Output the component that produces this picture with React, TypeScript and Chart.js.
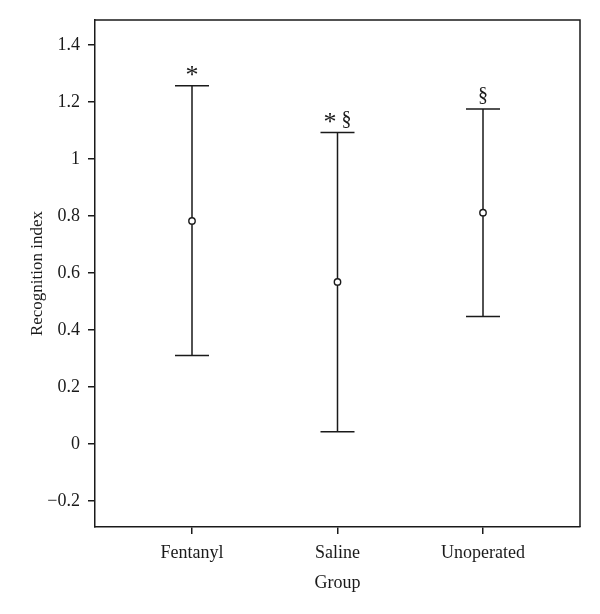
import React, { useEffect, useRef } from "react";
import { Chart, registerables } from "chart.js";
Chart.register(...registerables);

const groups = ["Fentanyl", "Saline", "Unoperated"];
const means = [0.783, 0.569, 0.812];
const upper = [1.257, 1.093, 1.176];
const lower = [0.311, 0.043, 0.448];
const marks = ["*", "* §", "§"];
const yTicks = [-0.2, 0, 0.2, 0.4, 0.6, 0.8, 1, 1.2, 1.4];
const xPositions = [1, 2, 3];

const FONT = "'Liberation Serif', 'Times New Roman', serif";
const INK = "#1a1a1a";

const fmt = (v: number) => {
  const r = Number(v.toFixed(1));
  return r < 0 ? "\u2212" + Math.abs(r) : String(r);
};

const drawMark = (ctx: CanvasRenderingContext2D, text: string, cx: number, baseY: number) => {
  const parts = text.split("");
  const sizeOf = (ch: string) => (ch === "*" ? 26 : 20);
  const widths = parts.map((ch) => {
    ctx.font = `${sizeOf(ch)}px ${FONT}`;
    return ctx.measureText(ch).width;
  });
  const total = widths.reduce((a, b) => a + b, 0);
  let x = cx - total / 2;
  parts.forEach((ch, i) => {
    ctx.font = `${sizeOf(ch)}px ${FONT}`;
    ctx.fillText(ch, x, ch === "*" ? baseY + 5 : baseY);
    x += widths[i];
  });
};

const errorBarPlugin = {
  id: "errorBars",
  beforeDatasetsDraw(chart: any) {
    const { ctx, scales } = chart;
    const xs = scales.x;
    const ys = scales.y;
    ctx.save();
    ctx.strokeStyle = INK;
    ctx.lineWidth = 1.5;
    const cap = 17;
    xPositions.forEach((xv, i) => {
      const x = xs.getPixelForValue(xv);
      const yt = ys.getPixelForValue(upper[i]);
      const yb = ys.getPixelForValue(lower[i]);
      ctx.beginPath();
      ctx.moveTo(x, yt);
      ctx.lineTo(x, yb);
      ctx.moveTo(x - cap, yt);
      ctx.lineTo(x + cap, yt);
      ctx.moveTo(x - cap, yb);
      ctx.lineTo(x + cap, yb);
      ctx.stroke();
    });
    ctx.restore();
  },
  afterDraw(chart: any) {
    const { ctx, scales, chartArea } = chart;
    const xs = scales.x;
    const ys = scales.y;
    ctx.save();
    ctx.strokeStyle = INK;
    ctx.lineWidth = 1.5;
    ctx.beginPath();
    ctx.moveTo(chartArea.left, chartArea.top);
    ctx.lineTo(chartArea.right, chartArea.top);
    ctx.lineTo(chartArea.right, chartArea.bottom);
    ctx.stroke();
    ctx.fillStyle = INK;
    ctx.textAlign = "left";
    ctx.textBaseline = "alphabetic";
    xPositions.forEach((xv, i) => {
      const x = xs.getPixelForValue(xv);
      const yt = ys.getPixelForValue(upper[i]);
      drawMark(ctx, marks[i], x, yt - 8);
    });
    ctx.restore();
  },
};

export default function App() {
  const ref = useRef<HTMLCanvasElement | null>(null);
  useEffect(() => {
    if (!ref.current) return;
    const chart = new Chart(ref.current, {
      type: "scatter",
      data: {
        datasets: [
          {
            data: xPositions.map((x, i) => ({ x, y: means[i] })),
            pointStyle: "circle",
            pointRadius: 3.2,
            pointBorderWidth: 1.4,
            pointBorderColor: INK,
            pointBackgroundColor: "#ffffff",
            showLine: false,
          },
        ],
      },
      options: {
        animation: false,
        responsive: false,
        maintainAspectRatio: false,
        layout: { padding: { top: 20, right: 20, left: 0, bottom: 0 } },
        plugins: { legend: { display: false }, tooltip: { enabled: false } },
        scales: {
          x: {
            type: "linear",
            min: 1 / 3,
            max: 11 / 3,
            afterBuildTicks: (s: any) => {
              s.ticks = xPositions.map((v) => ({ value: v }));
            },
            afterFit: (s: any) => {
              s.height = 87;
            },
            ticks: {
              callback: (v: any) => groups[xPositions.indexOf(Number(v))] ?? "",
              color: INK,
              font: { family: FONT, size: 18 },
              padding: 8,
              maxRotation: 0,
              autoSkip: false,
            },
            grid: {
              display: true,
              drawOnChartArea: false,
              drawTicks: true,
              tickLength: 7,
              color: INK,
              lineWidth: 1.5,
            },
            border: { display: true, color: INK, width: 1.5 },
            title: {
              display: true,
              text: "Group",
              color: INK,
              font: { family: FONT, size: 18 },
              padding: { top: 0, bottom: 20 },
            },
          },
          y: {
            type: "linear",
            min: -0.291,
            max: 1.488,
            afterBuildTicks: (s: any) => {
              s.ticks = yTicks.map((v) => ({ value: v }));
            },
            afterFit: (s: any) => {
              s.width = 95;
            },
            ticks: {
              callback: (v: any) => fmt(Number(v)),
              color: INK,
              font: { family: FONT, size: 18 },
              padding: 8,
            },
            grid: {
              display: true,
              drawOnChartArea: false,
              drawTicks: true,
              tickLength: 7,
              color: INK,
              lineWidth: 1.5,
            },
            border: { display: true, color: INK, width: 1.5 },
            title: {
              display: true,
              text: "Recognition index",
              color: INK,
              font: { family: FONT, size: 17 },
              padding: { top: 27, bottom: 0 },
            },
          },
        },
      },
      plugins: [errorBarPlugin],
    } as any);
    return () => chart.destroy();
  }, []);
  return (
    <div style={{ position: "fixed", left: 0, top: 0, width: 600, height: 614, background: "#fff" }}>
      <canvas ref={ref} width={600} height={614} style={{ width: 600, height: 614, display: "block" }} />
    </div>
  );
}
